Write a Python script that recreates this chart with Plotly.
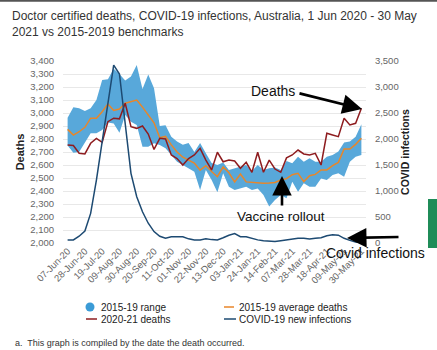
import pandas as pd
import plotly.graph_objects as go

# ---------------- data ----------------
weeks = pd.date_range("2020-06-07", "2021-05-30", freq="7D")
tick_labels = ["07-Jun-20", "28-Jun-20", "19-Jul-20", "09-Aug-20", "30-Aug-20", "20-Sep-20",
               "11-Oct-20", "01-Nov-20", "22-Nov-20", "13-Dec-20", "03-Jan-21", "24-Jan-21",
               "14-Feb-21", "07-Mar-21", "28-Mar-21", "18-Apr-21", "09-May-21", "30-May-21"]

range_lower = [2750, 2695, 2700, 2767, 2844, 2844, 2870, 2926, 2920, 2849,
               2985, 2933, 2908, 2741, 2741, 2767, 2754, 2728, 2677, 2625,
               2600, 2574, 2549, 2408, 2562, 2485, 2390, 2536, 2433, 2408,
               2420, 2433, 2408, 2420, 2369, 2280, 2330, 2369, 2344, 2472,
               2395, 2459, 2433, 2433, 2497, 2485, 2523, 2536, 2510, 2625,
               2664, 2677]
range_upper = [2964, 3044, 3036, 3015, 3036, 3100, 3254, 3259, 3340, 3300,
               3250, 3280, 3370, 3185, 3297, 3190, 2900, 2905, 2818, 2780,
               2755, 2770, 2700, 2770, 2690, 2615, 2600, 2620, 2562, 2575,
               2588, 2600, 2554, 2600, 2562, 2575, 2580, 2562, 2630, 2613,
               2664, 2625, 2651, 2625, 2625, 2664, 2677, 2703, 2774, 2780,
               2818, 2913]
avg_deaths = [2874, 2830, 2856, 2890, 2960, 2960, 3010, 3070, 3020, 3030,
              3075, 3090, 3100, 3045, 2985, 2925, 2810, 2820, 2755, 2700,
              2660, 2640, 2615, 2560, 2595, 2550, 2510, 2585, 2540, 2470,
              2530, 2470, 2465, 2460, 2460, 2462, 2465, 2485, 2495, 2525,
              2536, 2472, 2518, 2528, 2562, 2562, 2595, 2620, 2723, 2723,
              2759, 2805]
deaths_2021 = [2754, 2750, 2690, 2685, 2767, 2805, 2775, 2933, 2960, 2955,
               3075, 2895, 2882, 2900, 2838, 2720, 2805, 2800, 2677, 2650,
               2600, 2650, 2677, 2728, 2638, 2562, 2698, 2625, 2638, 2631,
               2575, 2621, 2544, 2698, 2544, 2638, 2569, 2544, 2655, 2677,
               2715, 2685, 2677, 2690, 2600, 2844, 2831, 2818, 2959, 2908,
               2921, 3036]
covid_new = [60, 60, 130, 230, 570, 1210, 1950, 2700, 3420, 3250,
             2240, 1340, 890, 600, 380, 220, 130, 90, 120, 125,
             120, 80, 60, 60, 80, 65, 60, 100, 150, 180,
             120, 120, 90, 60, 45, 40, 30, 45, 60, 80,
             90, 90, 75, 90, 100, 140, 160, 150, 90, 50,
             20, 5]

# ---------------- style ----------------
FONT = "Liberation Sans, Arial, sans-serif"
BAND = "#58a8da"
ORANGE = "#e8862a"
RED = "#8e1c1f"
NAVY = "#1d4a72"
W, H = 437, 350
ML, MR, MT, MB = 63, 71, 61, 107
PW, PH = W - ML - MR, H - MT - MB


def fx(px):
    return (px - ML) / PW


def fy(py):
    return (H - MB - py) / PH


fig = go.Figure()
fig.add_trace(go.Scatter(x=weeks, y=range_lower, mode="lines", line=dict(width=0, color=BAND),
                         hoverinfo="skip", showlegend=False))
fig.add_trace(go.Scatter(x=weeks, y=range_upper, mode="lines", line=dict(width=0, color=BAND),
                         fill="tonexty", fillcolor=BAND, name="2015-19 range", showlegend=False))
fig.add_trace(go.Scatter(x=weeks, y=avg_deaths, mode="lines", line=dict(width=1.5, color=ORANGE),
                         name="2015-19 average deaths", showlegend=False))
fig.add_trace(go.Scatter(x=weeks, y=deaths_2021, mode="lines", line=dict(width=1.5, color=RED),
                         name="2020-21 deaths", showlegend=False))
fig.add_trace(go.Scatter(x=weeks, y=covid_new, mode="lines", line=dict(width=1.5, color=NAVY),
                         name="COVID-19 new infections", yaxis="y2", showlegend=False))

pad = pd.Timedelta(days=5.6)
fig.update_layout(
    width=W, height=H,
    margin=dict(l=ML, r=MR, t=MT, b=MB),
    paper_bgcolor="white", plot_bgcolor="white",
    font=dict(family=FONT, color="#333"),
    showlegend=False,
    xaxis=dict(type="date", range=[weeks[0] - pad, weeks[-1] + pad],
               tickvals=list(weeks[::3]), ticktext=tick_labels, tickangle=-45,
               tickfont=dict(size=9.5, color="#666"), showgrid=False, zeroline=False,
               showline=False, ticks=""),
    yaxis=dict(range=[2000, 3400], dtick=100, tickformat=",", gridcolor="#e8e8e8",
               zeroline=False, showline=False, ticks="outside", ticklen=6, tickcolor="rgba(0,0,0,0)",
               tickfont=dict(size=9.5, color="#666"),
               title=dict(text="<b>Deaths</b>", font=dict(size=11, color="#222"), standoff=3)),
    yaxis2=dict(range=[0, 3500], dtick=500, tickformat=",", overlaying="y", side="right",
                showgrid=False, zeroline=False, showline=False, ticks="outside", ticklen=6,
                tickcolor="rgba(0,0,0,0)", tickfont=dict(size=9.5, color="#666"),
                title=dict(text="<b>COVID infections</b>", font=dict(size=10.5, color="#222"), standoff=3)),
)

shapes = []
annotations = []

# top border of the screenshot frame
shapes.append(dict(type="line", xref="paper", yref="paper", x0=fx(0), x1=fx(W), y0=fy(0.8), y1=fy(0.8),
                   line=dict(color="#555", width=2)))
# green side tab
shapes.append(dict(type="rect", xref="paper", yref="paper", x0=fx(428), x1=fx(440), y0=fy(248), y1=fy(199),
                   fillcolor="#1f8c58", line=dict(width=0)))

# title
annotations.append(dict(text="Doctor certified deaths, COVID-19 infections, Australia, 1 Jun 2020 - 30 May",
                        x=fx(10), y=fy(16), xref="paper", yref="paper", xanchor="left", yanchor="middle",
                        showarrow=False, font=dict(size=12, color="#333")))
annotations.append(dict(text="2021 vs 2015-2019 benchmarks",
                        x=fx(10), y=fy(32), xref="paper", yref="paper", xanchor="left", yanchor="middle",
                        showarrow=False, font=dict(size=12, color="#333")))

# manual legend
shapes.append(dict(type="circle", xref="paper", yref="paper", x0=fx(85.5), x1=fx(94.5), y0=fy(311.5), y1=fy(302.5),
                   fillcolor="#3b9bd6", line=dict(width=0)))
shapes.append(dict(type="line", xref="paper", yref="paper", x0=fx(224), x1=fx(234), y0=fy(307), y1=fy(307),
                   line=dict(color=ORANGE, width=1.5)))
shapes.append(dict(type="line", xref="paper", yref="paper", x0=fx(86), x1=fx(97), y0=fy(319), y1=fy(319),
                   line=dict(color=RED, width=1.5)))
shapes.append(dict(type="line", xref="paper", yref="paper", x0=fx(224), x1=fx(236), y0=fy(319), y1=fy(319),
                   line=dict(color=NAVY, width=1.5)))
for txt, px, py in [("2015-19 range", 99, 307), ("2015-19 average deaths", 237, 307),
                    ("2020-21 deaths", 99, 319), ("COVID-19 new infections", 237, 319)]:
    annotations.append(dict(text=txt, x=fx(px), y=fy(py), xref="paper", yref="paper", xanchor="left",
                            yanchor="middle", showarrow=False, font=dict(size=10, color="#222")))

# footnote
annotations.append(dict(text="a.  This graph is compiled by the date the death occurred.",
                        x=fx(13), y=fy(343), xref="paper", yref="paper", xanchor="left", yanchor="middle",
                        showarrow=False, font=dict(size=9, color="#333")))

# call-out texts
for txt, px, py, sz in [("Deaths", 273, 91, 14), ("Vaccine rollout", 281, 216, 13.5),
                        ("Covid infections", 375, 253, 14)]:
    annotations.append(dict(text=txt, x=fx(px), y=fy(py), xref="paper", yref="paper", xanchor="center",
                            yanchor="middle", showarrow=False, font=dict(size=sz, color="#111")))

# call-out arrows (tip, tail)
for (tx, ty), (sx, sy) in [((362, 109), (298, 93)), ((282, 176), (282, 207)), ((347, 238), (400, 237))]:
    annotations.append(dict(text="", x=fx(tx), y=fy(ty), xref="paper", yref="paper",
                            ax=sx - tx, ay=sy - ty, showarrow=True, arrowhead=2, arrowsize=1.5,
                            arrowwidth=2.6, arrowcolor="#000", standoff=0))

fig.update_layout(shapes=shapes, annotations=annotations)
fig.write_html("out.html")
